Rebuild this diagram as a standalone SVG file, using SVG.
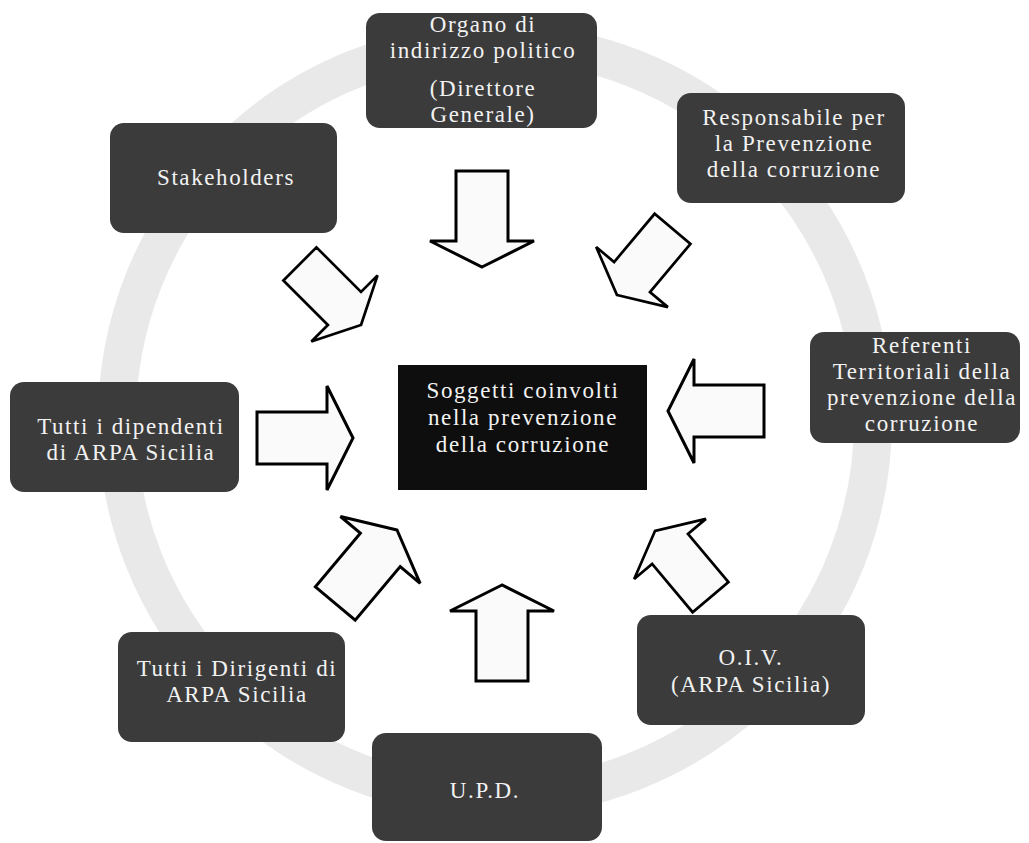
<svg xmlns="http://www.w3.org/2000/svg" width="1029" height="843" viewBox="0 0 1029 843">
<defs>
<style>
.box{fill:#3b3b3b;}
.ctr{fill:#0e0e0e;}
.t{font-family:"Liberation Serif","Times New Roman",serif;font-size:23px;letter-spacing:1.6px;fill:#f2f2f2;text-anchor:middle;}
.arr{fill:#fafafa;stroke:#000;stroke-width:3;stroke-linejoin:miter;}
</style>
<path id="ar" d="M0,0 L-26,-52 L-26,-26 L-96,-26 L-96,26 L-26,26 L-26,52 Z"/>
</defs>
<rect width="1029" height="843" fill="#fff"/>
<circle id="ring" cx="495" cy="420" r="378" fill="none" stroke="#e9e9e9" stroke-width="38"/>
<g id="connectors">
<use href="#ar" class="arr" transform="translate(482,267) rotate(90)"/>
<use href="#ar" class="arr" transform="translate(617,295) rotate(130) scale(0.9)"/>
<use href="#ar" class="arr" transform="translate(668,411) rotate(180)"/>
<use href="#ar" class="arr" transform="translate(655,531) rotate(-130) scale(0.9)"/>
<use href="#ar" class="arr" transform="translate(502,585) rotate(-90)"/>
<use href="#ar" class="arr" transform="translate(397,530) rotate(-50)"/>
<use href="#ar" class="arr" transform="translate(353,438) rotate(0)"/>
<use href="#ar" class="arr" transform="translate(361,325) rotate(45) scale(0.9)"/>
</g>
<g id="n-center">
<rect class="ctr" x="398" y="365" width="249" height="125"/>
<text class="t" x="523" y="398">Soggetti coinvolti</text>
<text class="t" x="523" y="425">nella prevenzione</text>
<text class="t" x="523" y="452">della corruzione</text>
</g>
<g id="n-organo">
<rect class="box" x="366" y="13" width="231" height="115" rx="14"/>
<text class="t" x="483" y="32">Organo di</text>
<text class="t" x="483" y="58">indirizzo politico</text>
<text class="t" x="483" y="96">(Direttore</text>
<text class="t" x="483" y="122">Generale)</text>
</g>
<g id="n-responsabile">
<rect class="box" x="677" y="93" width="228" height="110" rx="14"/>
<text class="t" x="794" y="125">Responsabile per</text>
<text class="t" x="794" y="151">la Prevenzione</text>
<text class="t" x="794" y="177">della corruzione</text>
</g>
<g id="n-referenti">
<rect class="box" x="810" y="332" width="210" height="111" rx="14"/>
<text class="t" x="922" y="353">Referenti</text>
<text class="t" x="922" y="379">Territoriali della</text>
<text class="t" x="922" y="405">prevenzione della</text>
<text class="t" x="922" y="431">corruzione</text>
</g>
<g id="n-oiv">
<rect class="box" x="637" y="615" width="228" height="110" rx="14"/>
<text class="t" x="751" y="665">O.I.V.</text>
<text class="t" x="751" y="692">(ARPA Sicilia)</text>
</g>
<g id="n-upd">
<rect class="box" x="372" y="733" width="230" height="108" rx="14"/>
<text class="t" x="485" y="798">U.P.D.</text>
</g>
<g id="n-dirigenti">
<rect class="box" x="118" y="632" width="227" height="110" rx="14"/>
<text class="t" x="237" y="676">Tutti i Dirigenti di</text>
<text class="t" x="237" y="702">ARPA Sicilia</text>
</g>
<g id="n-dipendenti">
<rect class="box" x="10" y="382" width="229" height="110" rx="14"/>
<text class="t" x="131" y="434">Tutti i dipendenti</text>
<text class="t" x="131" y="460">di ARPA Sicilia</text>
</g>
<g id="n-stakeholders">
<rect class="box" x="110" y="123" width="227" height="110" rx="14"/>
<text class="t" x="226" y="185">Stakeholders</text>
</g>
</svg>
